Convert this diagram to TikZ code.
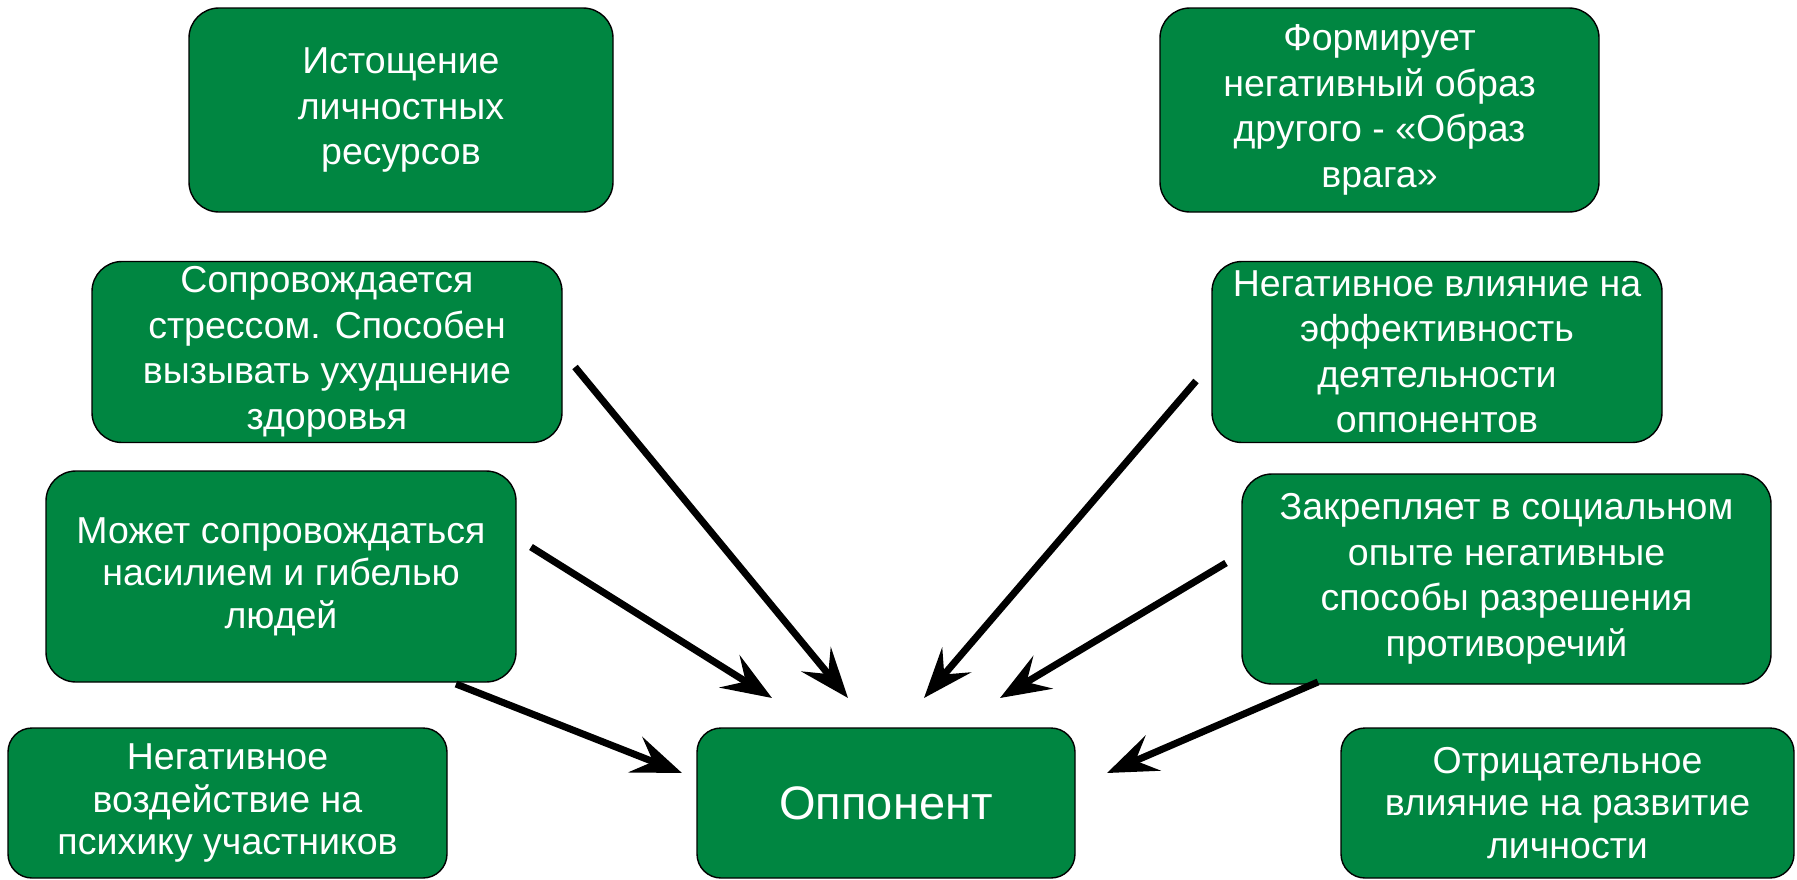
\documentclass[tikz,border=0pt]{standalone}
\usepackage{fontspec}
\setmainfont{Liberation Sans}
\usetikzlibrary{arrows.meta}
\definecolor{boxgreen}{RGB}{0,134,65}
\begin{document}
\begin{tikzpicture}[x=1pt,y=-1pt,
  gbox/.style={draw=black, line width=1.4pt, fill=boxgreen, rounded corners=30pt,
    text=white, align=center, inner sep=0pt,
    font=\fontsize{37.5}{45.5}\selectfont},
  three/.style={font=\fontsize{37.5}{42.5}\selectfont},
  arr/.style={line width=7pt, -{Stealth[length=50pt,width=38pt,inset=19pt]}}]
\useasboundingbox (0,0) rectangle (1797,879);
\node[gbox, minimum width=424pt, minimum height=204pt] (b1) at (401,110) {Истощение\\личностных\\ресурсов};
\node[gbox, minimum width=439pt, minimum height=204pt] (b2) at (1379.5,110) {Формирует\\негативный образ\\другого - «Образ\\врага»};
\node[gbox, minimum width=470pt, minimum height=181pt] (b3) at (327,352) {Сопровождается\\стрессом. Способен\\вызывать ухудшение\\здоровья};
\node[gbox, minimum width=450pt, minimum height=181pt] (b4) at (1437,352) {Негативное влияние на\\эффективность\\деятельности\\оппонентов};
\node[gbox, three, minimum width=470pt, minimum height=211pt] (b5) at (281,576.5) {Может сопровождаться\\насилием и гибелью\\людей};
\node[gbox, minimum width=529pt, minimum height=210pt] (b6) at (1506.5,579) {Закрепляет в социальном\\опыте негативные\\способы разрешения\\противоречий};
\node[gbox, three, rounded corners=24pt, minimum width=439pt, minimum height=150pt] (b7) at (227.5,803) {Негативное\\воздействие на\\психику участников};
\node[gbox, rounded corners=24pt, minimum width=378pt, minimum height=150pt, font=\fontsize{47}{56}\selectfont] (opp) at (886,803) {Оппонент};
\node[gbox, three, rounded corners=24pt, minimum width=453pt, minimum height=150pt] (b9) at (1567.5,803) {Отрицательное\\влияние на развитие\\личности};
\coordinate (a1) at (575,367);  \coordinate (a2) at (848,698);
\coordinate (b1s) at (531,547); \coordinate (b2e) at (772,698);
\coordinate (c1) at (456,684);  \coordinate (c2) at (682,773);
\coordinate (d1) at (1196,381); \coordinate (d2) at (924,698);
\coordinate (e1) at (1226,563); \coordinate (e2) at (1000,698);
\coordinate (f1) at (1318,682); \coordinate (f2) at (1107,773);
\draw[arr] (a1) -- (a2);
\draw[arr] (b1s) -- (b2e);
\draw[arr] (c1) -- (c2);
\draw[arr] (d1) -- (d2);
\draw[arr] (e1) -- (e2);
\draw[arr] (f1) -- (f2);
\end{tikzpicture}
\end{document}
